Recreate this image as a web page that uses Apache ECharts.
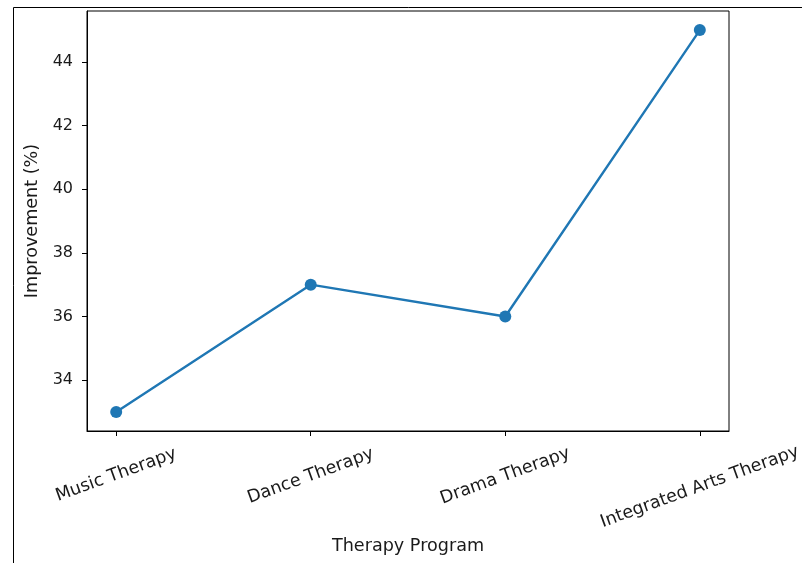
<!DOCTYPE html>
<html>
<head>
<meta charset="utf-8">
<script src="https://cdn.jsdelivr.net/npm/echarts@6/dist/echarts.min.js"></script>
<style>
html,body{margin:0;padding:0;background:#fff;}
#chart{width:802px;height:563px;}
</style>
</head>
<body>
<div id="chart"></div>
<script>
const categories = ['Music Therapy', 'Dance Therapy', 'Drama Therapy', 'Integrated Arts Therapy'];
const improvement = [33, 37, 36, 45];
const yTicks = [34, 36, 38, 40, 42, 44];

const FONT = 'DejaVu Sans';
const TXT = '#1a1a1a';
const chart = echarts.init(document.getElementById('chart'), null, {renderer: 'canvas'});

// per-label vertical shift (px) to mimic matplotlib top-aligned rotated labels
const shifts = [0, 1, 1, 12];
const rot = 20 * Math.PI / 180;
const rich = {};
shifts.forEach((v, i) => {
  const b = v * Math.cos(rot);
  const a = v * Math.sin(rot);
  rich['l' + i] = {
    fontFamily: FONT, fontSize: 17.5, color: TXT,
    padding: [2 * b, 2 * a, 0, 0]
  };
});

const option = {
  animation: false,
  backgroundColor: '#fff',
  graphic: [{
    type: 'rect',
    shape: {x: 13.5, y: 7.5, width: 1000, height: 1000},
    style: {fill: 'none', stroke: '#000', lineWidth: 1},
    silent: true
  }],
  grid: {
    left: 87, right: 73, top: 11, bottom: 132,
    outerBoundsMode: 'none',
    containLabel: false,
    show: true, borderColor: '#000', borderWidth: 1, backgroundColor: 'transparent'
  },
  xAxis: {
    type: 'value',
    min: -0.15, max: 3.15,
    splitLine: {show: false},
    axisLine: {show: true, onZero: false, lineStyle: {color: '#000', width: 1}},
    axisTick: {show: true, length: 5, lineStyle: {color: '#000'}, customValues: categories.map((c, i) => i)},
    axisLabel: {
      customValues: categories.map((c, i) => i),
      rotate: 20,
      align: 'center',
      verticalAlign: 'middle',
      margin: 44,
      hideOverlap: false,
      fontFamily: FONT, fontSize: 17.5, color: TXT,
      formatter: v => '{l' + Math.round(v) + '|' + categories[Math.round(v)] + '}',
      rich: rich
    },
    name: 'Therapy Program',
    nameLocation: 'middle',
    nameGap: 104,
    nameTextStyle: {fontFamily: FONT, fontSize: 17.6, color: TXT}
  },
  yAxis: {
    type: 'value',
    min: 32.4, max: 45.6,
    splitLine: {show: false},
    axisLine: {show: true, onZero: false, lineStyle: {color: '#000', width: 1}},
    axisTick: {show: true, length: 5, lineStyle: {color: '#000'}, customValues: yTicks},
    axisLabel: {
      customValues: yTicks,
      margin: 14,
      fontFamily: FONT, fontSize: 16, color: TXT
    },
    name: 'Improvement (%)',
    nameLocation: 'middle',
    nameRotate: 90,
    nameGap: 45,
    nameTextStyle: {fontFamily: FONT, fontSize: 17.6, color: TXT}
  },
  series: [{
    type: 'line',
    data: improvement.map((v, i) => [i, v]),
    symbol: 'circle',
    symbolSize: 12,
    showAllSymbol: true,
    lineStyle: {color: '#1f77b4', width: 2.4},
    itemStyle: {color: '#1f77b4'},
    z: 3
  }]
};
chart.setOption(option);
</script>
</body>
</html>
